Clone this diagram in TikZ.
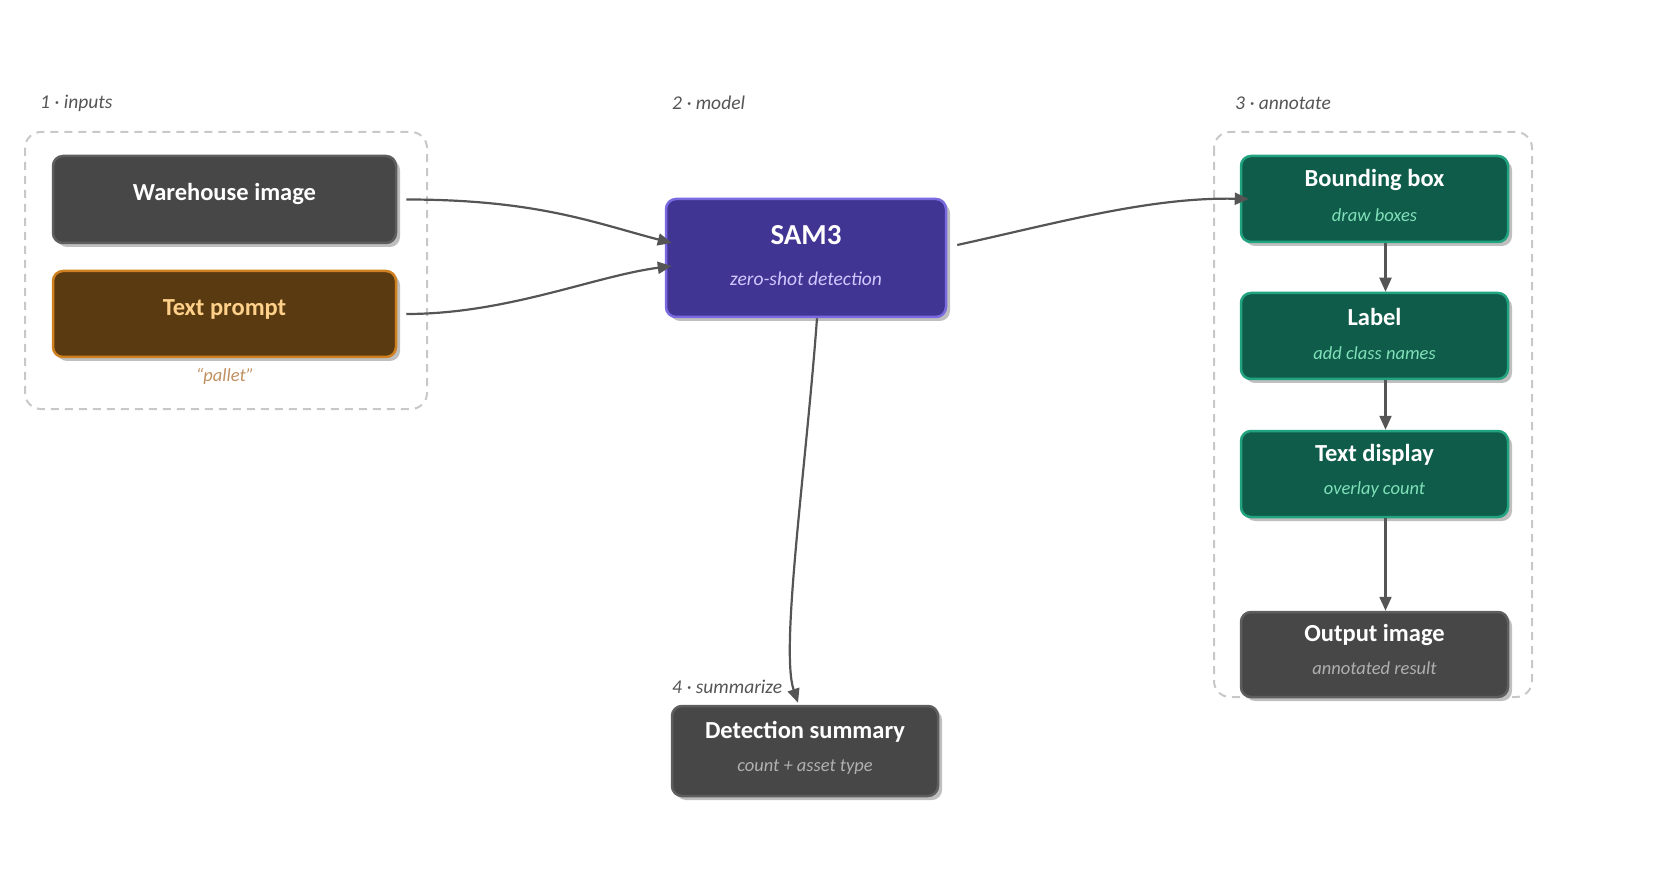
\documentclass[tikz,border=0pt]{standalone}
\usepackage{fontspec}
\setmainfont{Carlito}
\usetikzlibrary{calc,arrows.meta,shadows}
\definecolor{edgec}{HTML}{555555}
\definecolor{grpc}{HTML}{C8C8C8}
\definecolor{grayfill}{HTML}{474747}
\definecolor{grayline}{HTML}{5E5E5E}
\definecolor{graysub}{HTML}{B0B0B0}
\definecolor{brownfill}{HTML}{5A3A10}
\definecolor{brownline}{HTML}{D08020}
\definecolor{browntext}{HTML}{FFD08A}
\definecolor{pallettext}{HTML}{C09060}
\definecolor{purfill}{HTML}{413594}
\definecolor{purline}{HTML}{7A6AE0}
\definecolor{pursub}{HTML}{D0C8FF}
\definecolor{grnfill}{HTML}{0F5C4A}
\definecolor{grnline}{HTML}{22A37F}
\definecolor{grnsub}{HTML}{80E0B8}
\definecolor{labc}{HTML}{555555}
\tikzset{
  box/.style={draw, line width=2.5pt, rounded corners=10pt, inner sep=0pt,
    drop shadow={shadow xshift=4pt, shadow yshift=-4pt, fill=black!25, opacity=1}},
  graybox/.style={box, fill=grayfill, draw=grayline},
  brownbox/.style={box, fill=brownfill, draw=brownline},
  purbox/.style={box, fill=purfill, draw=purline},
  grnbox/.style={box, fill=grnfill, draw=grnline},
  ttl/.style={font=\bfseries\fontsize{24.5}{27}\selectfont, text=white, inner sep=0pt},
  sub/.style={font=\itshape\fontsize{18.5}{20}\selectfont, inner sep=0pt},
  grplabel/.style={font=\itshape\fontsize{19.5}{21}\selectfont, text=labc, anchor=west, inner sep=0pt},
  grp/.style={draw=grpc, line width=2pt, dash pattern=on 8pt off 6pt, rounded corners=16pt},
  conn/.style={draw=edgec, line width=2.2pt, -{Triangle[length=14pt,width=12pt]}},
}
\begin{document}
\begin{tikzpicture}[x=1pt,y=-1pt]
\useasboundingbox (0,0) rectangle (1657,882);
% groups
\draw[grp] (25,132) rectangle (427,409);
\draw[grp] (1214,132) rectangle (1532,697);
% group labels
\node[grplabel] (l1) at (40,103) {1 · inputs};
\node[grplabel] (l2) at (672,103) {2 · model};
\node[grplabel] (l3) at (1235,103) {3 · annotate};
\node[grplabel] (l4) at (672,687) {4 · summarize};
% boxes
\node[graybox, minimum width=343pt, minimum height=87pt] (wh) at (224.5,199.5) {};
\node[brownbox, minimum width=343pt, minimum height=86pt] (tp) at (224.5,314) {};
\node[purbox, minimum width=280pt, minimum height=118pt] (sam) at (806,258) {};
\node[grnbox, minimum width=267pt, minimum height=86pt] (bb) at (1374.5,199) {};
\node[grnbox, minimum width=267pt, minimum height=86pt] (lab) at (1374.5,336) {};
\node[grnbox, minimum width=267pt, minimum height=86pt] (td) at (1374.5,474) {};
\node[graybox, minimum width=267pt, minimum height=85pt] (out) at (1374.5,654.5) {};
\node[graybox, minimum width=266pt, minimum height=90pt] (det) at (805,751) {};
% texts
\node[ttl] (whT) at ($(wh.center)+(0,-6)$) {Warehouse image};
\node[ttl, text=browntext] (tpT) at ($(tp.center)+(0,-5)$) {Text prompt};
\node[sub, text=pallettext] (tpS) at (225,376) {“pallet”};
\node[ttl, font=\bfseries\fontsize{29}{31}\selectfont] (samT) at ($(sam.center)+(0,-23)$) {SAM3};
\node[sub, text=pursub, font=\itshape\fontsize{19.5}{21}\selectfont] (samS) at ($(sam.center)+(0,21)$) {zero-shot detection};
\node[ttl] (bbT) at ($(bb.center)+(0,-19)$) {Bounding box};
\node[sub, text=grnsub] (bbS) at ($(bb.center)+(0,16)$) {draw boxes};
\node[ttl] (labT) at ($(lab.center)+(0,-19)$) {Label};
\node[sub, text=grnsub] (labS) at ($(lab.center)+(0,17)$) {add class names};
\node[ttl] (tdT) at ($(td.center)+(0,-19)$) {Text display};
\node[sub, text=grnsub] (tdS) at ($(td.center)+(0,16)$) {overlay count};
\node[ttl] (outT) at ($(out.center)+(0,-20)$) {Output image};
\node[sub, text=graysub] (outS) at ($(out.center)+(0,14)$) {annotated result};
\node[ttl] (detT) at ($(det.center)+(0,-19)$) {Detection summary};
\node[sub, text=graysub] (detS) at ($(det.center)+(0,16)$) {count + asset type};
% connectors
\draw[conn] ($(wh.east)+(9,0)$) .. controls ($(wh.east)+(140,0)$) and ($(sam.west)+(-70,-35)$) .. ($(sam.west)+(7,-15)$);
\draw[conn] ($(tp.east)+(9,0)$) .. controls ($(tp.east)+(110,0)$) and ($(sam.west)+(-70,18)$) .. ($(sam.west)+(7,8)$);
\draw[conn] ($(sam.east)+(10,-13)$) .. controls ($(sam.east)+(110,-35)$) and ($(bb.west)+(-90,-2)$) .. ($(bb.west)+(9,0)$);
\draw[conn] ($(sam.south)+(11,0)$) .. controls ($(sam.south)+(0,150)$) and ($(det.north)+(-25,-55)$) .. ($(det.north)+(-7,-2)$);
\draw[conn] ($(bb.south)+(11,0)$) -- ($(lab.north)+(11,0)$);
\draw[conn] ($(lab.south)+(11,0)$) -- ($(td.north)+(11,0)$);
\draw[conn] ($(td.south)+(11,0)$) -- ($(out.north)+(11,0)$);
\end{tikzpicture}
\end{document}
